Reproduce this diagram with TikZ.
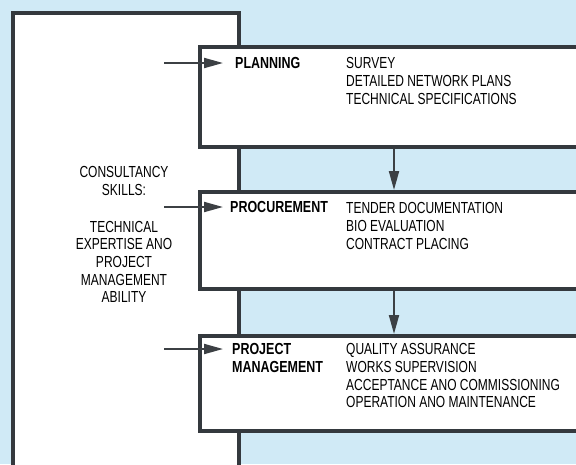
\documentclass[tikz,border=0pt]{standalone}
\usepackage{fontspec}
\setmainfont{Liberation Sans}[FakeStretch=0.75, BoldFeatures={FakeStretch=0.78}]
\usetikzlibrary{arrows.meta}
\definecolor{bgblue}{RGB}{208,234,246}
\definecolor{edge}{RGB}{52,57,62}
\definecolor{arr}{RGB}{60,64,68}
\tikzset{
  panel/.style={draw=edge, line width=3.5pt, fill=white, anchor=north west, inner sep=0pt},
  flow/.style={draw=arr, line width=2pt, -{Triangle[length=19pt,width=10pt]}},
  txt/.style={inner sep=0pt, font=\fontsize{16}{17.7}\selectfont, align=left, anchor=north west},
  ctxt/.style={inner sep=0pt, font=\fontsize{16}{17.7}\selectfont, align=center, anchor=north},
  btxt/.style={txt, font=\fontsize{16}{17.7}\selectfont\bfseries}
}
\begin{document}
\begin{tikzpicture}[x=1pt,y=-1pt]
\fill[bgblue] (0,0) rectangle (576,464);
\useasboundingbox (0,0) rectangle (576,464);
% big skills panel
\node[panel, minimum width=226pt, minimum height=470pt] (skills) at (11,11) {};
% right panels
\node[panel, minimum width=400pt, minimum height=100pt] (plan) at (198,45) {};
\node[panel, minimum width=400pt, minimum height=97pt] (proc) at (198,190) {};
\node[panel, minimum width=400pt, minimum height=95pt] (pm) at (198,334) {};
% left text
\node[ctxt] (skilltext) at (124,166.3) {CONSULTANCY\\SKILLS:\\[19pt]TECHNICAL\\EXPERTISE ANO\\PROJECT\\MANAGEMENT\\ABILITY};
% labels
\node[btxt] (planlab) at (235,57.3) {PLANNING};
\node[txt] (planlist) at (346,57.3) {SURVEY\\DETAILED NETWORK PLANS\\TECHNICAL SPECIFICATIONS};
\node[btxt] (proclab) at (230,201.3) {PROCUREMENT};
\node[txt] (proclist) at (346,202.3) {TENDER DOCUMENTATION\\BIO EVALUATION\\CONTRACT PLACING};
\node[btxt] (pmlab) at (232,343.3) {PROJECT\\MANAGEMENT};
\node[txt] (pmlist) at (346,343.3) {QUALITY ASSURANCE\\WORKS SUPERVISION\\ACCEPTANCE ANO COMMISSIONING\\OPERATION ANO MAINTENANCE};
% arrows
\coordinate (s1) at (164,63);  \coordinate (t1) at (223,63);
\coordinate (s2) at (164,207); \coordinate (t2) at (223,207);
\coordinate (s3) at (164,349); \coordinate (t3) at (223,349);
\coordinate (dx) at (394,0);
\draw[flow] (s1) -- (t1);
\draw[flow] (s2) -- (t2);
\draw[flow] (s3) -- (t3);
\draw[flow] (plan.south -| dx) -- (proc.north -| dx);
\draw[flow] (proc.south -| dx) -- (pm.north -| dx);
\end{tikzpicture}
\end{document}
